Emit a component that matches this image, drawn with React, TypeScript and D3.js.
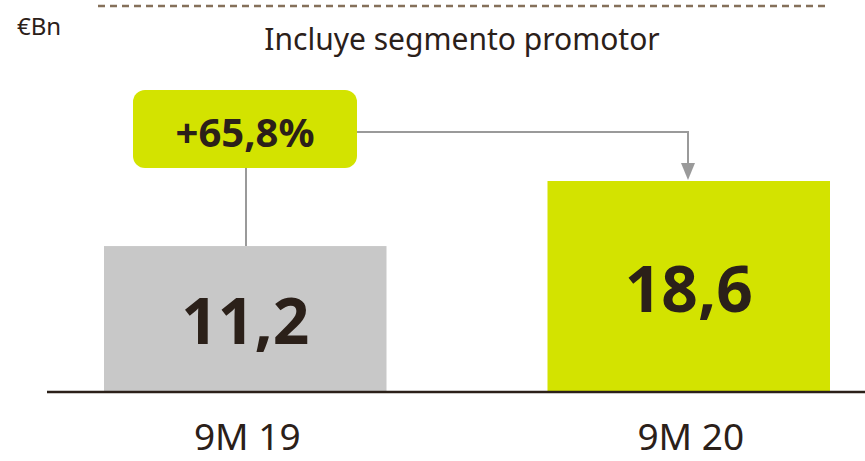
import React from "react";
import * as d3 from "d3";

const categories = ["9M 19", "9M 20"];
const values = [11.2, 18.6];
const valueLabels = ["11,2", "18,6"];
const barColors = ["#c8c8c8", "#d3e300"];
const growthLabel = "+65,8%";
const unitLabel = "€Bn";
const subtitle = "Incluye segmento promotor";

const W = 865;
const H = 461;
const TEXT = "#2b2019";
const FONT = "'Noto Sans', 'Open Sans', sans-serif";

const App = () => {
  const baseY = 392;

  // bars are not drawn to scale in the source, so the domain floor is below zero
  const x = d3.scaleBand().domain(categories).range([104, 830]).paddingInner(0.363).paddingOuter(0);
  const y = d3.scaleLinear().domain([-5.4, 18.6]).range([baseY, 181]);

  const cx = (c: string) => (x(c) ?? 0) + x.bandwidth() / 2;

  // annotation box over first bar, arrow to second bar
  const boxW = 224;
  const boxH = 78;
  const boxX = 133;
  const boxY = 90;
  const lineY = 132;
  const stemX = 246;
  const arrowX = 688;
  const arrowTip = y(values[1]);

  return (
    <svg
      width={W}
      height={H}
      style={{ position: "absolute", left: 0, top: 0, display: "block" }}
      fontFamily={FONT}
    >
      <line x1={98} x2={826} y1={6} y2={6} stroke="#85705a" strokeWidth={2.5} strokeDasharray="7 5" />
      <text x={17} y={35} fontSize={24} fill={TEXT}>{unitLabel}</text>
      <text x={462} y={50} fontSize={30} fill={TEXT} textAnchor="middle">{subtitle}</text>

      {categories.map((c, i) => (
        <g key={c}>
          <rect x={x(c)} y={y(values[i])} width={x.bandwidth()} height={baseY - y(values[i])} fill={barColors[i]} />
          <text
            x={cx(c)}
            y={(y(values[i]) + baseY) / 2 + 25}
            fontSize={64}
            fontWeight={700}
            fill={TEXT}
            textAnchor="middle"
          >
            {valueLabels[i]}
          </text>
          <text x={cx(c) + 2} y={450} fontSize={37} fill={TEXT} textAnchor="middle">{c}</text>
        </g>
      ))}

      <line x1={47} x2={865} y1={baseY} y2={baseY} stroke={TEXT} strokeWidth={2.5} />

      <line x1={stemX} x2={stemX} y1={boxY + boxH} y2={y(values[0])} stroke="#9a9a9a" strokeWidth={2} />
      <polyline
        points={`${boxX + boxW},${lineY} ${arrowX},${lineY} ${arrowX},${arrowTip - 16}`}
        fill="none"
        stroke="#9a9a9a"
        strokeWidth={2}
      />
      <path d={`M${arrowX - 7},${arrowTip - 18} L${arrowX + 7},${arrowTip - 18} L${arrowX},${arrowTip - 1} Z`} fill="#9a9a9a" />

      <rect x={boxX} y={boxY} width={boxW} height={boxH} rx={12} fill="#d3e300" />
      <text x={boxX + boxW / 2} y={boxY + 57} fontSize={40} fontWeight={700} fill={TEXT} textAnchor="middle">
        {growthLabel}
      </text>
    </svg>
  );
};

export default App;
